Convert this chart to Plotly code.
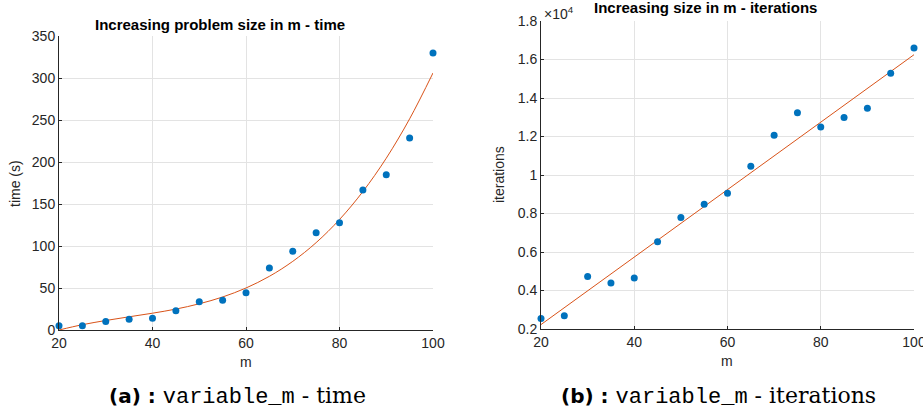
import plotly.graph_objects as go

# ---- data ----
m_vals = [20, 25, 30, 35, 40, 45, 50, 55, 60, 65, 70, 75, 80, 85, 90, 95, 100]
time_s = [5, 5, 10, 12.7, 14, 23, 33.7, 35.3, 44.4, 73.8, 93.7, 115.8, 127.8, 166.7, 184.9, 228.6, 329.8]
time_fit = [0, 6.3, 11.3, 15.7, 20, 24.9, 31.2, 39.3, 50, 63.9, 81.7, 104.0, 131.5, 164.8, 204.5, 251.4, 306]
iterations = [2540, 2690, 4730, 4390, 4645, 6530, 7790, 8480, 9050, 10450, 12060, 13230, 12490, 12990, 13470, 15290, 16600]
fit_m = [20, 100]
iter_fit = [2230, 16250]

x_ticks = [20, 40, 60, 80, 100]
time_ticks = [0, 50, 100, 150, 200, 250, 300, 350]
iter_tickvals = [2000, 4000, 6000, 8000, 10000, 12000, 14000, 16000, 18000]
iter_ticktext = ["0.2", "0.4", "0.6", "0.8", "1", "1.2", "1.4", "1.6", "1.8"]

BLUE = "#0072BD"
ORANGE = "#D95319"
AX = "#262626"
GRID = "#e3e3e3"
FONT = "Liberation Sans"

W, H = 923, 412
fig = go.Figure()

fig.add_trace(go.Scatter(x=m_vals, y=time_fit, mode="lines", line=dict(color=ORANGE, width=1, shape="spline"),
                         xaxis="x", yaxis="y", showlegend=False, cliponaxis=False))
fig.add_trace(go.Scatter(x=m_vals, y=time_s, mode="markers", marker=dict(color=BLUE, size=7),
                         xaxis="x", yaxis="y", showlegend=False, cliponaxis=False))
fig.add_trace(go.Scatter(x=fit_m, y=iter_fit, mode="lines", line=dict(color=ORANGE, width=1),
                         xaxis="x2", yaxis="y2", showlegend=False, cliponaxis=False))
fig.add_trace(go.Scatter(x=m_vals, y=iterations, mode="markers", marker=dict(color=BLUE, size=7),
                         xaxis="x2", yaxis="y2", showlegend=False, cliponaxis=False))

def px_x(p):
    return p / W

def px_y(p):
    return 1 - p / H

common = dict(showline=True, linecolor=AX, linewidth=1, ticks="inside", ticklen=3, tickcolor=AX,
              showgrid=True, gridcolor=GRID, gridwidth=1, zeroline=False, automargin=False,
              ticklabeloverflow="allow",
              tickfont=dict(family=FONT, size=14, color=AX))

fig.update_layout(
    template="none",
    width=W, height=H, margin=dict(l=0, r=0, t=0, b=0, pad=0),
    paper_bgcolor="white", plot_bgcolor="white",
    xaxis=dict(domain=[px_x(59), px_x(433)], range=[20, 100], tickvals=x_ticks, anchor="y", **common),
    yaxis=dict(domain=[px_y(330), px_y(36)], range=[0, 350], tickvals=time_ticks, anchor="x", **common),
    xaxis2=dict(domain=[px_x(541), px_x(914)], range=[20, 100], tickvals=x_ticks, anchor="y2", **common),
    yaxis2=dict(domain=[px_y(329), px_y(21)], range=[2000, 18000], tickvals=iter_tickvals,
                ticktext=iter_ticktext, anchor="x2", **common),
)

def label(text, x, y, size=14, angle=0, color=AX, bold=False, xanchor="center"):
    t = "<b>" + text + "</b>" if bold else text
    return dict(text=t, x=px_x(x), y=px_y(y), xref="paper", yref="paper", showarrow=False,
                xanchor=xanchor, yanchor="middle", textangle=angle,
                font=dict(family=FONT, size=size, color=color))

ann = [
    label("Increasing problem size in m - time", 220, 25, size=15, color="black", bold=True),
    label("Increasing size in m - iterations", 705, 8, size=15, color="black", bold=True),
    label("×10<sup>4</sup>", 542, 13, size=14, xanchor="left"),
    label("time (s)", 15, 183, angle=-90),
    label("m", 246, 362),
    label("iterations", 499, 175, angle=-90),
    label("m", 727, 361),
]

def caption(letter, rest):
    return ("<span style='font-family:DejaVu Sans;font-size:20px'><b>(" + letter + ") :</b></span> "
            "<span style='font-family:Liberation Mono'>variable_m</span>"
            "<span style='font-family:DejaVu Serif'> - " + rest + "</span>")

ann.append(dict(text=caption("a", "time"), x=px_x(237), y=px_y(396), xref="paper", yref="paper",
                showarrow=False, xanchor="center", yanchor="middle",
                font=dict(family="DejaVu Serif", size=22, color="black")))
ann.append(dict(text=caption("b", "iterations"), x=px_x(718), y=px_y(396), xref="paper", yref="paper",
                showarrow=False, xanchor="center", yanchor="middle",
                font=dict(family="DejaVu Serif", size=22, color="black")))
fig.update_layout(annotations=ann)

fig.write_html("out.html")
